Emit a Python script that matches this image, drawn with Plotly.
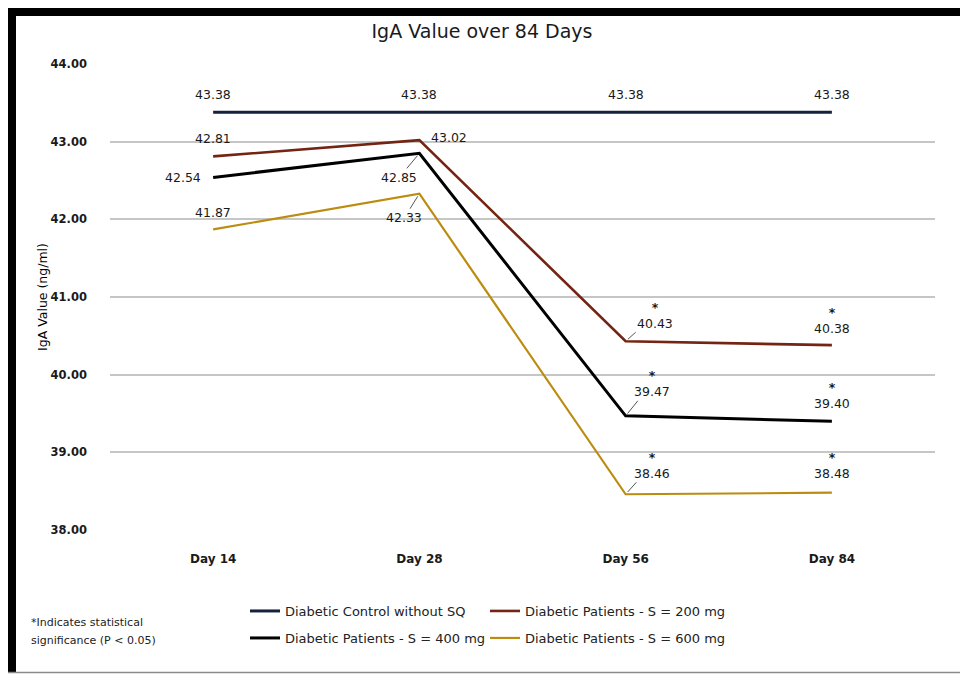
import plotly.graph_objects as go

# ---- data ----
days = ["Day 14", "Day 28", "Day 56", "Day 84"]
control = [43.38, 43.38, 43.38, 43.38]
s200 = [42.81, 43.02, 40.43, 40.38]
s400 = [42.54, 42.85, 39.47, 39.40]
s600 = [41.87, 42.33, 38.46, 38.48]
significant = [False, False, True, True]  # treatment groups only
series_names = ["Diabetic Control without SQ", "Diabetic Patients - S = 200 mg",
                "Diabetic Patients - S = 400 mg", "Diabetic Patients - S = 600 mg"]
y_ticks = [38, 39, 40, 41, 42, 43, 44]
footnote_lines = ["*Indicates statistical", "significance (P < 0.05)"]

colors = ["#15213F", "#742412", "#000000", "#BC8C10"]
widths = [3, 2.6, 3, 2.2]
legends = ["legend", "legend", "legend2", "legend2"]
all_series = [control, s200, s400, s600]

# label placement styles per series / point: (xshift, yshift, xanchor, leader)
placements = [
    [(0, 18, "center", False)] * 4,
    [(0, 18, "center", False), (10, 3, "left", False), (29, 18, "center", True), (0, 17, "center", False)],
    [(-10, 0, "right", False), (-20, -24, "center", True), (26, 24, "center", True), (0, 18, "center", False)],
    [(0, 17, "center", False), (-15, -24, "center", True), (26, 21, "center", True), (0, 19, "center", False)],
]

LABEL_FONT = dict(family="DejaVu Sans", size=12.5, color="#1a1a1a")

fig = go.Figure()
for i, vals in enumerate(all_series):
    fig.add_trace(go.Scatter(
        x=days, y=vals, mode="lines", name=series_names[i],
        line=dict(color=colors[i], width=widths[i]),
        legend=legends[i], hoverinfo="skip",
    ))

annotations = []
for i, vals in enumerate(all_series):
    for j, v in enumerate(vals):
        dx, dy, xa, leader = placements[i][j]
        star = (i > 0) and significant[j]
        txt = f"{v:.2f}"
        if star:
            txt = "<b>*</b><br>" + txt
            dy_box = dy + 8
        else:
            dy_box = dy
        if leader:
            annotations.append(dict(
                x=days[j], y=v, xref="x", yref="y", text=txt, showarrow=True,
                ax=dx, ay=-dy_box, arrowhead=0, arrowwidth=1, arrowcolor="#555555",
                standoff=3, font=LABEL_FONT, align="center",
            ))
        else:
            annotations.append(dict(
                x=days[j], y=v, xref="x", yref="y", text=txt, showarrow=False,
                xshift=dx, yshift=dy_box, xanchor=xa, yanchor="middle",
                font=LABEL_FONT, align="center",
            ))

L, R, T, B = 110, 25, 64, 145
W, H = 960, 675
pw, ph = W - L - R, H - T - B


def px_x(p):
    return (p - L) / pw


def px_y(p):
    return (H - B - p) / ph


# footnote
for k, line in enumerate(footnote_lines):
    annotations.append(dict(
        x=px_x(29), y=px_y(622 + 18 * k), xref="paper", yref="paper",
        xanchor="left", yanchor="middle", text=line, showarrow=False,
        align="left", font=dict(family="DejaVu Sans", size=11, color="#222222"),
    ))

shapes = [
    dict(type="rect", xref="paper", yref="paper", x0=px_x(8), x1=px_x(962),
         y0=px_y(16), y1=px_y(8), fillcolor="black", line=dict(width=0), layer="above"),
    dict(type="rect", xref="paper", yref="paper", x0=px_x(8), x1=px_x(16),
         y0=px_y(672), y1=px_y(8), fillcolor="black", line=dict(width=0), layer="above"),
    dict(type="line", xref="paper", yref="paper", x0=px_x(8), x1=px_x(962),
         y0=px_y(672.5), y1=px_y(672.5), line=dict(color="#8a8a8a", width=1.5)),
]

LEG_FONT = dict(family="DejaVu Sans", size=13, color="#222222")

fig.update_layout(
    width=W, height=H,
    margin=dict(l=L, r=R, t=T, b=B, autoexpand=False),
    paper_bgcolor="white", plot_bgcolor="white",
    title=dict(text="IgA Value over 84 Days", x=482 / W, xanchor="center",
               y=1 - 31 / H, yanchor="middle",
               font=dict(family="DejaVu Sans", size=19, color="#1a1a1a")),
    xaxis=dict(type="category", range=[-0.5, 3.5], showgrid=False, zeroline=False,
               showline=False, ticks="", ticklabelstandoff=20,
               tickfont=dict(family="DejaVu Sans", size=12, color="#1a1a1a", weight="bold")),
    yaxis=dict(range=[38, 44], tickvals=y_ticks, tickformat=".2f",
               showgrid=True, gridcolor="#c6c6c6", gridwidth=1.5, zeroline=False,
               showline=False, ticks="", ticklabelstandoff=22,
               tickfont=dict(family="DejaVu Sans", size=11.5, color="#1a1a1a", weight="bold"),
               title=dict(text="IgA Value (ng/ml)", standoff=0,
                          font=dict(family="DejaVu Sans", size=12.5, color="#000000"))),
    legend=dict(orientation="h", x=px_x(245), y=px_y(596), xanchor="left", yanchor="top",
                font=LEG_FONT, entrywidth=195, entrywidthmode="pixels",
                bgcolor="rgba(0,0,0,0)", tracegroupgap=0),
    legend2=dict(orientation="h", x=px_x(245), y=px_y(623), xanchor="left", yanchor="top",
                 font=LEG_FONT, entrywidth=195, entrywidthmode="pixels",
                 bgcolor="rgba(0,0,0,0)", tracegroupgap=0),
    annotations=annotations,
    shapes=shapes,
    showlegend=True,
)

fig.write_html("out.html", config={"displayModeBar": False},
               post_script="document.body.style.margin='0px';")
